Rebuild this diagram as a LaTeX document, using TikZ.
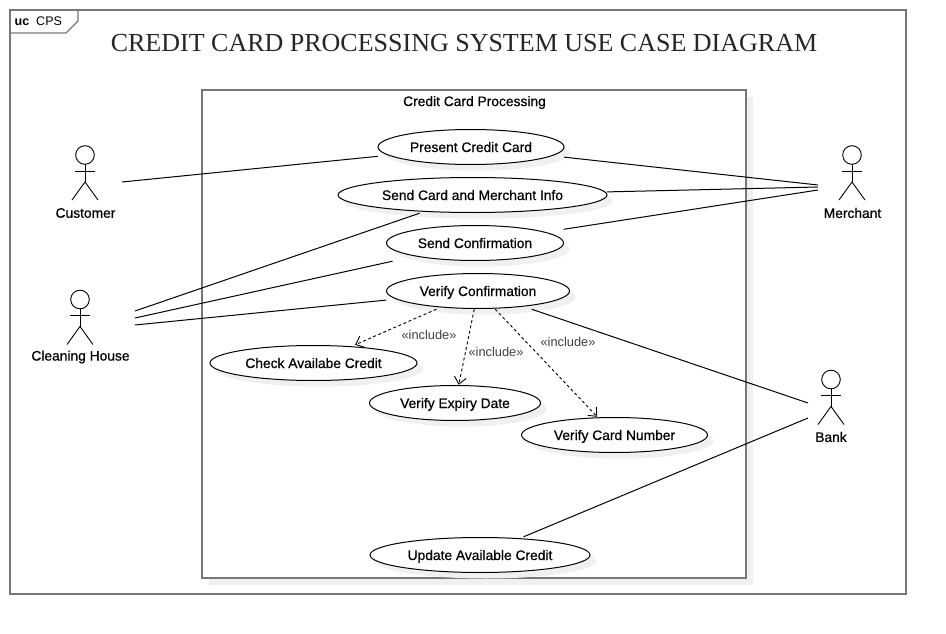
\documentclass[tikz,border=0pt]{standalone}
\usepackage{fontspec}
\setmainfont{Liberation Sans}
\newfontfamily\titlefont{Liberation Serif}
\newfontfamily\semifont[FakeBold=0.6]{Liberation Sans}
\usetikzlibrary{shapes.geometric,shadows,arrows.meta}
\definecolor{framegray}{HTML}{777777}
\tikzset{
  caseshape/.style={ellipse,draw=black,fill=white,line width=1pt,inner sep=0pt,
    minimum height=35pt,
    drop shadow={shadow xshift=6pt,shadow yshift=-6pt,fill=black!6,opacity=1}},
  casebox/.style={rectangle,inner sep=0pt,minimum height=36pt,text depth=0pt,
    font=\fontsize{13.8}{15}\semifont},
  assoc/.style={draw=black,line width=1pt},
  incl/.style={draw=black,line width=0.9pt,dash pattern=on 3pt off 2.5pt,
    -{Straight Barb[length=7pt,width=12pt,line width=0.9pt]}},
  incllabel/.style={font=\fontsize{12.8}{14}\selectfont,text=black!75},
  actorlabel/.style={font=\fontsize{13.8}{15}\semifont,text=black},
  stickman/.pic={
    \draw[line width=0.9pt] (0,9) circle (9.3);
    \draw[line width=0.9pt] (0,18) -- (0,36);
    \draw[line width=0.9pt] (-10,25) -- (10,25);
    \draw[line width=0.9pt] (-13,54) -- (0,36) -- (13,54);
  }
}
% ellipse plus a box of the same size: connectors stop at the box
\newcommand{\usecase}[4]{%
  \node[caseshape,minimum width=#2pt] (#1shape) at (#3) {};
  \node[casebox,minimum width=#2pt] (#1) at (#3) {#4};
}
\begin{document}
\begin{tikzpicture}[x=1pt,y=-1pt]
  \useasboundingbox (0,0) rectangle (946,634);
  \fill[white] (0,0) rectangle (946,634);

  % Outer frame and its tab
  \draw[framegray,line width=1.5pt] (10,10) rectangle (906,594);
  \draw[framegray,line width=1.2pt] (10,33) -- (66,33) -- (78,21) -- (78,10);
  \node[anchor=west,inner sep=0pt,font=\fontsize{12.5}{14}\selectfont] (tab) at (14.5,21) {\textbf{uc}\ \ CPS};

  % Title
  \node[font=\fontsize{26}{30}\titlefont,text=black!85] (title) at (464,43) {CREDIT CARD PROCESSING SYSTEM USE CASE DIAGRAM};

  % System boundary
  \fill[black!6] (209,97) rectangle (753,585);
  \draw[framegray,line width=2pt,fill=white] (202,90) rectangle (746,578);
  \node[font=\fontsize{13.8}{15}\semifont] (system) at (474.5,102.5) {Credit Card Processing};

  % Use cases
  \usecase{present}{186}{471,147}{Present Credit Card}
  \usecase{sendinfo}{269}{472.5,195}{Send Card and Merchant Info}
  \usecase{sendconf}{177}{475,243}{Send Confirmation}
  \usecase{verifyconf}{183}{478,291}{Verify Confirmation}
  \usecase{check}{207}{313.5,363}{Check Availabe Credit}
  \usecase{expiry}{171}{455,403}{Verify Expiry Date}
  \usecase{cardnum}{186}{614.5,435}{Verify Card Number}
  \usecase{update}{220}{480,555}{Update Available Credit}

  % Actors
  \pic at (85,146) {stickman};
  \node[actorlabel] (customer) at (85.5,213) {Customer};
  \pic at (852,146) {stickman};
  \node[actorlabel] (merchant) at (852.5,213) {Merchant};
  \pic at (80,290.5) {stickman};
  \node[actorlabel] (cleaning) at (80.5,357) {Cleaning House};
  \pic at (831,370.5) {stickman};
  \node[actorlabel] (bank) at (831,437) {Bank};

  % Free ends of the associations
  \coordinate (c1) at (122,182);
  \coordinate (m1) at (818,185);
  \coordinate (m2) at (818,187);
  \coordinate (m3) at (818,190);
  \coordinate (h1) at (135,311);
  \coordinate (h2) at (135,318);
  \coordinate (h3) at (135,325);
  \coordinate (b1) at (808,403);
  \coordinate (b2) at (808,418);

  % Associations
  \draw[assoc] (c1) -- (present);
  \draw[assoc] (m1) -- (present);
  \draw[assoc] (m2) -- (sendinfo);
  \draw[assoc] (m3) -- (sendconf);
  \draw[assoc] (h1) -- (sendinfo);
  \draw[assoc] (h2) -- (sendconf);
  \draw[assoc] (h3) -- (verifyconf);
  \draw[assoc] (b1) -- (verifyconf);
  \draw[assoc] (b2) -- (update);

  % Includes
  \draw[incl] (verifyconf) -- (check);
  \draw[incl] (verifyconf) -- (expiry);
  \draw[incl] (verifyconf) -- (cardnum);
  \node[incllabel] (inc1) at (429,335) {«include»};
  \node[incllabel] (inc2) at (496,352) {«include»};
  \node[incllabel] (inc3) at (568,342) {«include»};
\end{tikzpicture}
\end{document}
